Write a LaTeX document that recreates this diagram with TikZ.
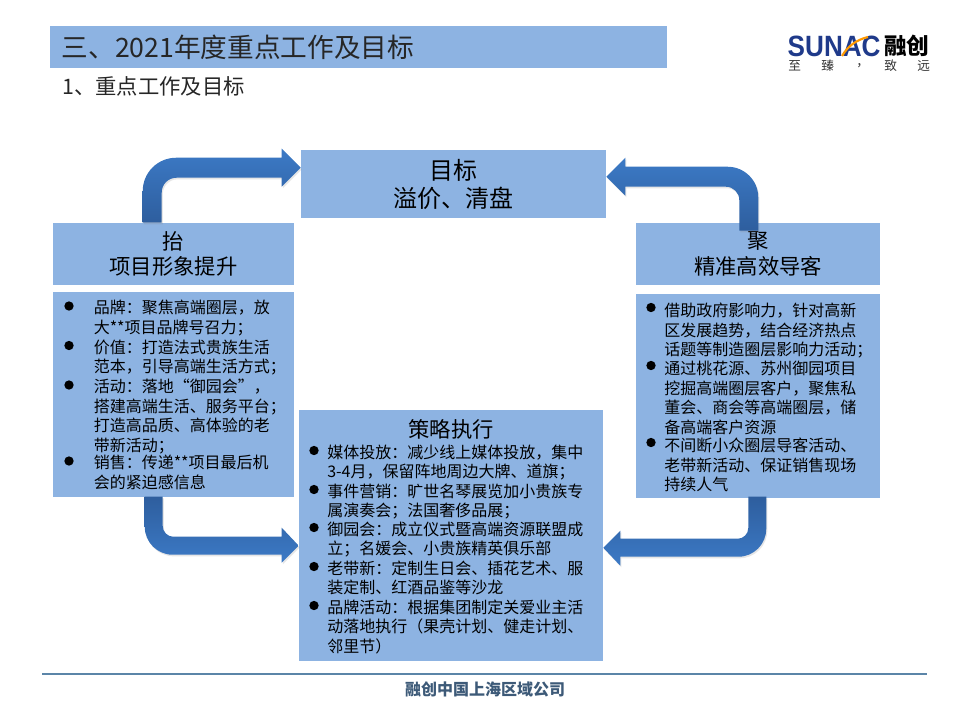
\documentclass[tikz,border=0pt]{standalone}
\usepackage{fontspec}
\setmainfont{Noto Sans CJK SC}
\newfontfamily\latinbold{Liberation Sans}[BoldFont={Liberation Sans Bold}]
\usetikzlibrary{calc}
\usetikzlibrary{shadows}
\definecolor{panelblue}{HTML}{8DB3E2}
\definecolor{arrowlight}{HTML}{3C7AC6}
\definecolor{arrowdark}{HTML}{2E5E9E}
\definecolor{footline}{HTML}{5B85A8}
\definecolor{footink}{HTML}{3D5A78}
\definecolor{sunacblue}{HTML}{1F3A8A}
\tikzset{
  panel/.style={fill=panelblue, inner sep=0pt, align=center, font=\fontsize{16}{19}\selectfont},
  bullet/.style={circle, fill=black, inner sep=0pt, minimum size=7pt},
  itemtext/.style={anchor=north west, inner sep=0pt, align=left, font=\fontsize{12}{14.6}\selectfont},
  logotext/.style={anchor=west, inner sep=0pt, font=\fontsize{9.5}{10}\selectfont, text=black!80},
  flowarrow/.style={drop shadow={opacity=0.2, shadow xshift=0.8pt, shadow yshift=-1.2pt}},
}

\begin{document}
\begin{tikzpicture}[x=0.75pt,y=-0.75pt]
\useasboundingbox (0,0) rectangle (970,721);

% title
\node[panel, minimum width=617*0.75pt, minimum height=42*0.75pt] (head) at (358.5,47) {};
\node[anchor=west, inner sep=0pt, font=\fontsize{20}{24}\selectfont, text=black!85] (headtext) at (61.5,47) {三、2021年度重点工作及目标};
\node[anchor=west, inner sep=0pt, font=\fontsize{16}{20}\selectfont, text=black!85] (subhead) at (62,86) {1、重点工作及目标};

% logo
\node[anchor=west, inner sep=0pt, text=sunacblue, xscale=0.89, font=\latinbold\bfseries\fontsize{22}{22}\selectfont] (logoname) at (787.5,46) {SUNAC};
\draw[orange!80!yellow, line width=1.6pt] (842,56) .. controls (848,46) and (856,40) .. (868,37);
\node[anchor=west, inner sep=0pt, font=\bfseries\fontsize{17}{17}\selectfont] (logocn) at (884,46) {融创};
\node[logotext] (logoa) at (788,66) {至};
\node[logotext] (logob) at (821,66) {臻};
\node[logotext] (logoc) at (856,66) {，};
\node[logotext] (logod) at (884,66) {致};
\node[logotext] (logoe) at (917,66) {远};

% boxes
\node[panel, minimum width=305*0.75pt, minimum height=68*0.75pt, font=\fontsize{18}{21}\selectfont] (goal) at (453.5,184) {目标\\溢价、清盘};
\node[panel, minimum width=241*0.75pt, minimum height=62*0.75pt] (lift) at (173.5,254) {抬\\项目形象提升};
\node[panel, minimum width=244*0.75pt, minimum height=62*0.75pt] (aim) at (758,254) {聚\\精准高效导客};
\node[panel, minimum width=241*0.75pt, minimum height=205*0.75pt] (liftlist) at (173.5,394.5) {};
\node[panel, minimum width=244*0.75pt, minimum height=204*0.75pt] (aimlist) at (758,396) {};
\node[panel, minimum width=304*0.75pt, minimum height=251*0.75pt] (exec) at (451,535.5) {};
\node[inner sep=0pt, font=\fontsize{16}{20}\selectfont] (exectitle) at (451,429) {策略执行};

% arrows
\coordinate (tipA) at ($(goal.north west)+(0,18)$);
\shade[flowarrow, top color=arrowlight, bottom color=arrowdark] (tipA) -- ++(-19,-19) -- ++(0,9) [rounded corners=25pt] -- ++(-139,0) [sharp corners] -- ++(0,65) -- ++(19,0) [rounded corners=11pt] -- ++(0,-45) [sharp corners] -- ++(120,0) -- ++(0,9) -- cycle;
\coordinate (tipB) at ($(goal.north east)+(0,27)$);
\shade[flowarrow, top color=arrowlight, bottom color=arrowdark] (tipB) -- ++(19,-19) -- ++(0,9) [rounded corners=23pt] -- ++(133,0) [sharp corners] -- ++(0,64) -- ++(-19,0) [rounded corners=10pt] -- ++(0,-44) [sharp corners] -- ++(-114,0) -- ++(0,9) -- cycle;
\coordinate (tipC) at ($(exec.north west)+(0,136)$);
\shade[flowarrow, top color=arrowdark, bottom color=arrowlight] (tipC) -- ++(-17,-18) -- ++(0,9) [rounded corners=8pt] -- ++(-119,0) [sharp corners] -- ++(0,-40) -- ++(-18,0) [rounded corners=21pt] -- ++(0,58) [sharp corners] -- ++(137,0) -- ++(0,8) -- cycle;
\coordinate (tipD) at ($(exec.north east)+(0,138)$);
\shade[flowarrow, top color=arrowdark, bottom color=arrowlight] (tipD) -- ++(17,-17) -- ++(0,8) [rounded corners=8pt] -- ++(128,0) [sharp corners] -- ++(0,-42) -- ++(18,0) [rounded corners=21pt] -- ++(0,60) [sharp corners] -- ++(-146,0) -- ++(0,9) -- cycle;

% left list
\foreach \n/\ypos/\body in {a/300/{品牌：聚焦高端圈层，放\\大**项目品牌号召力；},
    b/339.5/{价值：打造法式贵族生活\\范本，引导高端生活方式；},
    c/379/{活动：落地“御园会”，\\搭建高端生活、服务平台；\\打造高品质、高体验的老\\带新活动；},
    d/455/{销售：传递**项目最后机\\会的紧迫感信息}}{
  \node[bullet] (liftdot\n) at (69,\ypos+6) {};
  \node[itemtext] (liftitem\n) at (93.5,\ypos) {\body};
}

% right list
\foreach \n/\ypos/\body in {a/303/{借助政府影响力，针对高新\\区发展趋势，结合经济热点\\话题等制造圈层影响力活动；},
    b/361/{通过桃花源、苏州御园项目\\挖掘高端圈层客户，聚焦私\\董会、商会等高端圈层，储\\备高端客户资源},
    c/438/{不间断小众圈层导客活动、\\老带新活动、保证销售现场\\持续人气}}{
  \node[bullet] (aimdot\n) at (651,\ypos+4.5) {};
  \node[itemtext] (aimitem\n) at (664,\ypos) {\body};
}

% centre list
\foreach \n/\ypos/\body in {a/444.5/{媒体投放：减少线上媒体投放，集中\\3-4月，保留阵地周边大牌、道旗；},
    b/483.5/{事件营销：旷世名琴展览加小贵族专\\属演奏会；法国奢侈品展；},
    c/521.5/{御园会：成立仪式暨高端资源联盟成\\立；名媛会、小贵族精英俱乐部},
    d/560.5/{老带新：定制生日会、插花艺术、服\\装定制、红酒品鉴等沙龙},
    e/599.5/{品牌活动：根据集团制定关爱业主活\\动落地执行（果壳计划、健走计划、\\邻里节）}}{
  \node[bullet] (execdot\n) at (314,\ypos+6) {};
  \node[itemtext] (execitem\n) at (327,\ypos) {\body};
}

% footer
\coordinate (footleft) at (42,674);
\coordinate (footright) at (927,674);
\draw[footline, line width=1.2pt] (footleft) -- (footright);
\node[inner sep=0pt, text=footink, font=\bfseries\fontsize{12}{14}\selectfont] (foot) at (485,689) {融创中国上海区域公司};

\end{tikzpicture}
\end{document}
